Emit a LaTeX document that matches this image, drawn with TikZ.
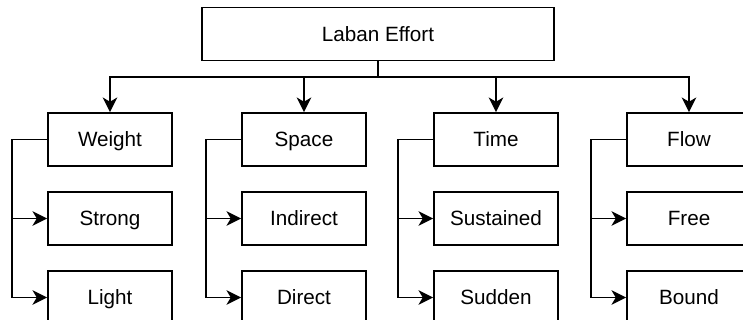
\documentclass[tikz,border=0pt]{standalone}
\usepackage{fontspec}
\setmainfont{Liberation Sans}
\usetikzlibrary{arrows.meta}

\tikzset{
  effbox/.style={draw,line width=1.3pt,minimum width=93pt,minimum height=39.75pt,inner sep=0pt,
    text height=12.5pt,text depth=1.5pt,font=\fontsize{15.5}{18}\selectfont},
  link/.style={line width=1.3pt,-{Stealth[length=11pt,width=11pt,inset=3.2pt]}},
  plain/.style={line width=1.3pt}
}

\begin{document}
\begin{tikzpicture}[x=0.75pt,y=-0.75pt]
            \clip (0,0) rectangle (743,320);
            \useasboundingbox (0,0) rectangle (743,320);

            \node[effbox,minimum width=264pt] (effort) at (378,34) {Laban Effort};
            \coordinate (bus) at (378,77);

            \node[effbox] (weight) at (110,139.5) {Weight};
            \node[effbox] (strong) at (110,218.5) {Strong};
            \node[effbox] (light)  at (110,297.5) {Light};

            \node[effbox] (space)    at (304,139.5) {Space};
            \node[effbox] (indirect) at (304,218.5) {Indirect};
            \node[effbox] (direct)   at (304,297.5) {Direct};

            \node[effbox] (time)      at (496,139.5) {Time};
            \node[effbox] (sustained) at (496,218.5) {Sustained};
            \node[effbox] (sudden)    at (496,297.5) {Sudden};

            \node[effbox] (flow)  at (689,139.5) {Flow};
            \node[effbox] (free)  at (689,218.5) {Free};
            \node[effbox] (bound) at (689,297.5) {Bound};

            \draw[plain] (effort.south) -- (bus);
            \draw[link] (bus) -| (weight.north);
            \draw[link] (bus) -| (space.north);
            \draw[link] (bus) -| (time.north);
            \draw[link] (bus) -| (flow.north);

            \draw[link] (weight.west) -- ++(-35,0) |- (strong.west);
            \draw[link] (weight.west) -- ++(-35,0) |- (light.west);
            \draw[link] (space.west) -- ++(-35,0) |- (indirect.west);
            \draw[link] (space.west) -- ++(-35,0) |- (direct.west);
            \draw[link] (time.west) -- ++(-35,0) |- (sustained.west);
            \draw[link] (time.west) -- ++(-35,0) |- (sudden.west);
            \draw[link] (flow.west) -- ++(-35,0) |- (free.west);
            \draw[link] (flow.west) -- ++(-35,0) |- (bound.west);
          \end{tikzpicture}
\end{document}
